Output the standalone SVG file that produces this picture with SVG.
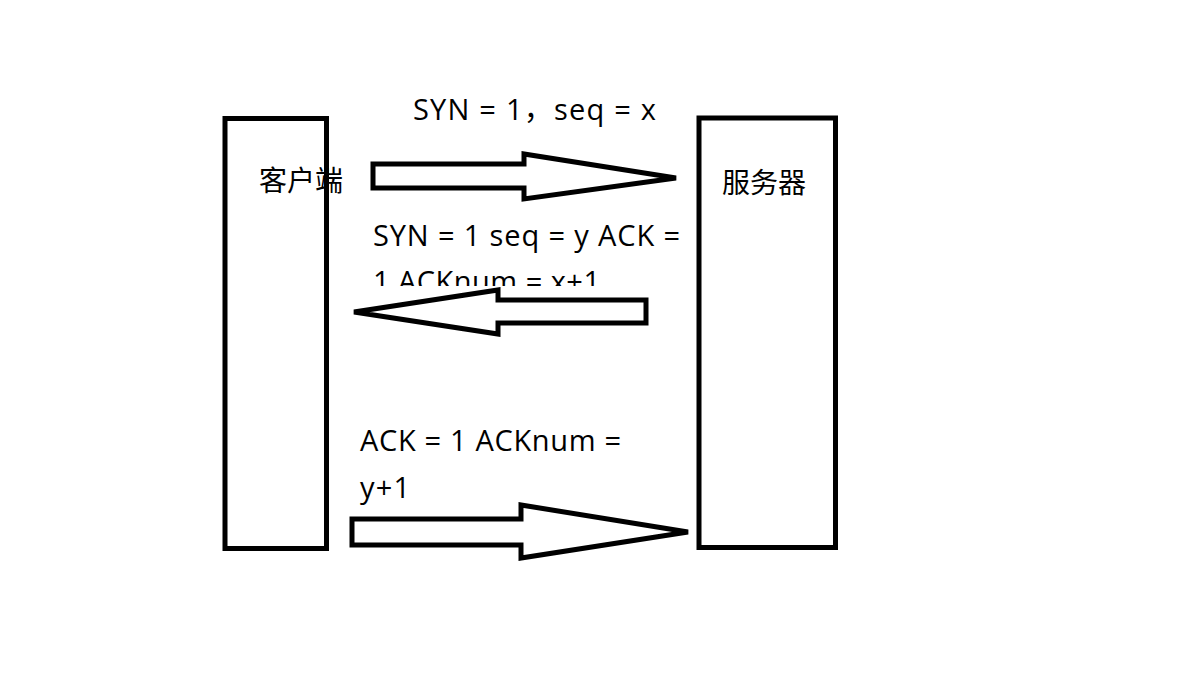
<svg xmlns="http://www.w3.org/2000/svg" width="1183" height="674" viewBox="0 0 1183 674">
<style>
.box{fill:#fff;stroke:#000;stroke-width:5}
.arr{fill:#fff;stroke:#000;stroke-width:5;stroke-linejoin:miter}
.t{font-family:"Open Sans","Noto Sans CJK SC",sans-serif;font-size:29px;fill:#000}
.c{font-family:"Noto Sans CJK SC",sans-serif;font-size:28px;fill:#000}
</style>
<defs>
<clipPath id="clip2"><rect x="0" y="0" width="1183" height="286"/></clipPath>
</defs>
<rect width="1183" height="674" fill="#fff"/>
<g id="client">
<rect class="box" x="225" y="118.5" width="101.5" height="430"/>
<text class="c" x="259" y="191" textLength="84" lengthAdjust="spacingAndGlyphs">客户端</text>
</g>
<g id="server">
<rect class="box" x="699" y="118" width="136.5" height="429.5"/>
<text class="c" x="722" y="193" textLength="84" lengthAdjust="spacingAndGlyphs">服务器</text>
</g>
<g id="connectors">
<polygon class="arr" points="373,164 524,164 524,154 676,178 524,199 524,188 373,188"/>
<polygon class="arr" points="646,300 498,300 498,290 354,312 498,334 498,323 646,323"/>
<polygon class="arr" points="352,519 521,519 521,505 688,532 521,558 521,545 352,545"/>
</g>
<g id="labels">
<text class="t" x="413" y="120" textLength="243" lengthAdjust="spacing">SYN = 1，seq = x</text>
<g clip-path="url(#clip2)">
<text class="t" x="373" y="246" textLength="307" lengthAdjust="spacing">SYN = 1 seq = y ACK =</text>
<text class="t" x="373" y="292" textLength="227" lengthAdjust="spacing">1 ACKnum = x+1</text>
</g>
<text class="t" x="360" y="451" textLength="261" lengthAdjust="spacing">ACK = 1 ACKnum =</text>
<text class="t" x="360" y="498" textLength="50" lengthAdjust="spacing">y+1</text>
</g>
</svg>
